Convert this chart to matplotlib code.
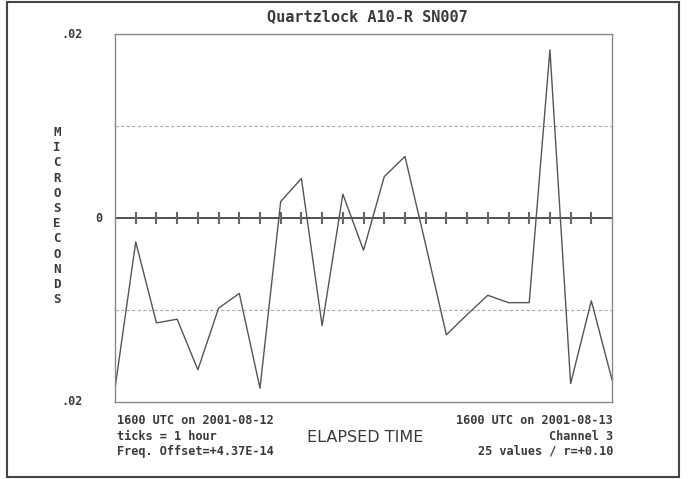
import matplotlib.pyplot as plt
from matplotlib.patches import Rectangle

# one reading per hour, 25 values (microseconds)
hours = list(range(25))
offsets = [-0.0185, -0.0026, -0.0114, -0.0110, -0.0165, -0.0098, -0.0082,
           -0.0185, 0.0018, 0.0043, -0.0117, 0.0026, -0.0035, 0.0045,
           0.0067, -0.0029, -0.0127, -0.0105, -0.0084, -0.0092, -0.0092,
           0.0183, -0.0180, -0.0090, -0.0176]

title = "Quartzlock A10-R SN007"
ylabel = "MICROSECONDS"
xlabel = "ELAPSED TIME"
left_notes = ["1600 UTC on 2001-08-12", "ticks = 1 hour", "Freq. Offset=+4.37E-14"]
right_notes = ["1600 UTC on 2001-08-13", "Channel 3", "25 values / r=+0.10"]
ytick_vals = [0.02, 0.0, -0.02]
ytick_text = [".02", "0", ".02"]

mono = "DejaVu Sans Mono"
txt = "#3a3a3a"

fig = plt.figure(figsize=(6.88, 4.79), dpi=100)
fig.patches.append(Rectangle((0.0102, 0.0042), 0.9767, 0.9916, transform=fig.transFigure,
                             fill=False, edgecolor="#444444", linewidth=1.5))

ax = fig.add_axes([0.1672, 0.1608, 0.7224, 0.768])
ax.set_xlim(0, 24)
ax.set_ylim(-0.02, 0.02)

# grid lines at +-0.01 and the zero line
for g in (0.01, -0.01):
    ax.axhline(g, color="#aaaaaa", linewidth=0.8, linestyle=(0, (3, 2)))
ax.axhline(0, color="#333333", linewidth=1.2)

# hour ticks on the zero line
ax.vlines(hours[1:-1], -0.0007, 0.0007, color="#666666", linewidth=1.5)

ax.plot(hours, offsets, color="#555555", linewidth=1.0)

for s in ax.spines.values():
    s.set_color("#888888")
    s.set_linewidth(1.0)
ax.set_xticks([])
ax.set_yticks([])

# y labels
tr = ax.get_yaxis_transform()
for v, t in zip(ytick_vals, ytick_text):
    xpos = -0.064 if t != "0" else -0.026
    ax.text(xpos, v, t, transform=tr, ha="right", va="center",
            fontsize=8.5, fontfamily=mono, fontweight="bold", color=txt)

fig.text(0.534, 0.965, title, ha="center", va="center", fontsize=11,
         fontfamily=mono, fontweight="bold", color=txt)

fig.text(0.083, 0.549, "\n".join(ylabel), ha="center", va="center", fontsize=9,
         fontfamily=mono, fontweight="bold", color=txt, linespacing=1.22)

for i, (l, r) in enumerate(zip(left_notes, right_notes)):
    y = 1 - (421 + 15 * i) / 479
    fig.text(0.170, y, l, ha="left", va="center", fontsize=8.6,
             fontfamily=mono, fontweight="bold", color=txt)
    fig.text(0.891, y, r, ha="right", va="center", fontsize=8.6,
             fontfamily=mono, fontweight="bold", color=txt)

fig.text(0.531, 1 - 437 / 479, xlabel, ha="center", va="center", fontsize=11.5,
         fontfamily="DejaVu Sans", color=txt)

fig.savefig("out.png", dpi=100)
